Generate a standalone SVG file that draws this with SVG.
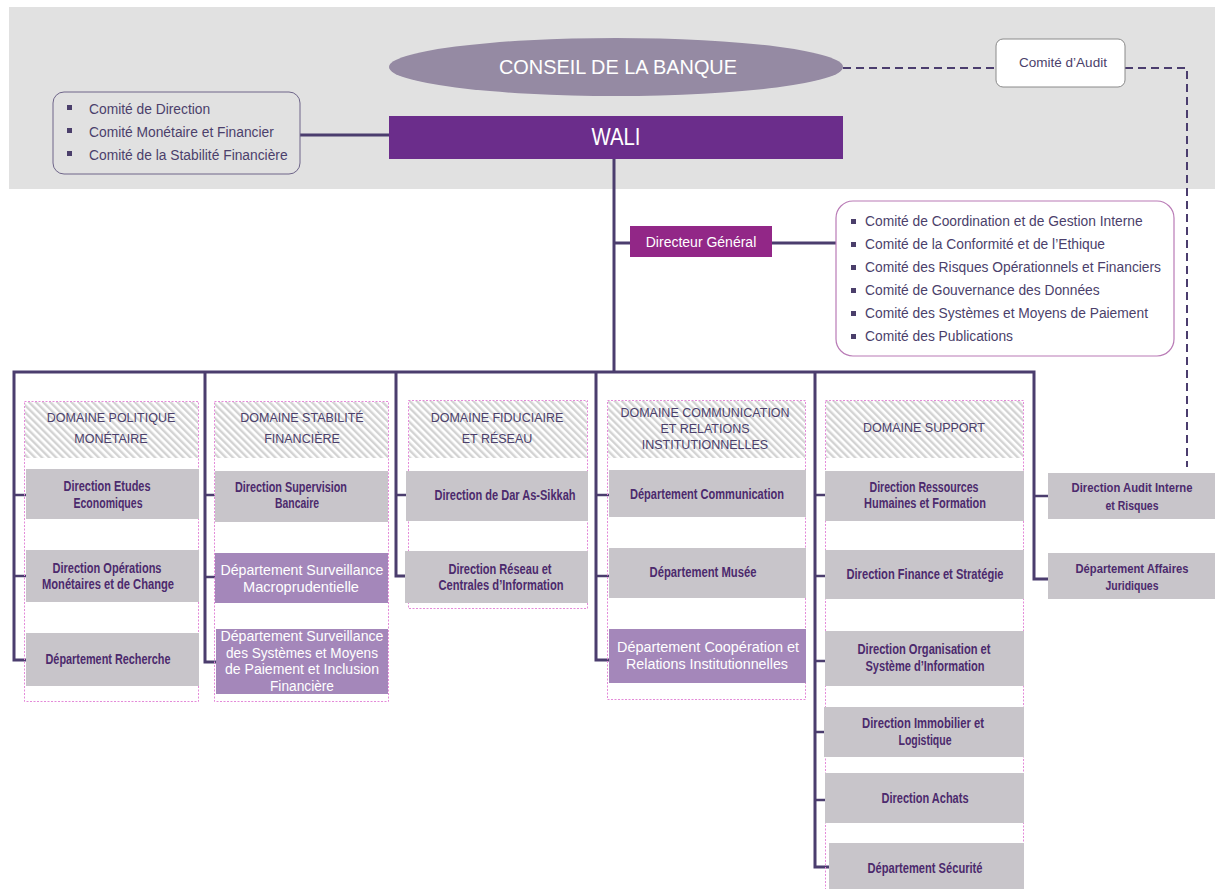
<svg xmlns="http://www.w3.org/2000/svg" width="1215" height="889" viewBox="0 0 1215 889">
<defs>
<pattern id="hatch" width="5" height="5" patternUnits="userSpaceOnUse" patternTransform="rotate(-45)">
<rect width="5" height="5" fill="#ffffff"/>
<rect width="2.4" height="5" fill="#d3d3d3"/>
</pattern>
<style>
.band{fill:#e1e1e1}
.ln{fill:none;stroke:#4b3d6e;stroke-width:3}
.tk{fill:none;stroke:#4b3d6e;stroke-width:2.5}
.dash{fill:none;stroke:#4b3d6e;stroke-width:2;stroke-dasharray:8,5}
.dom{fill:none;stroke:#e48ad9;stroke-width:1;stroke-dasharray:2,1.5}
.hd{fill:url(#hatch)}
.gb{fill:#c8c5ca}
.pb{fill:#a487ba}
.bt{font-family:"Liberation Sans",sans-serif;font-weight:bold;font-size:14.5px;fill:#4c2a6d;text-anchor:middle}
.bs{font-size:13px}
.wt{font-family:"Liberation Sans",sans-serif;font-size:14px;fill:#ffffff;text-anchor:middle}
.ht{font-family:"Liberation Sans",sans-serif;font-size:12.5px;fill:#4b3f6b;text-anchor:middle}
.ct{font-family:"Liberation Sans",sans-serif;font-size:13.8px;fill:#4b3f6b}
.bu{fill:#4b3f6b}
</style>
</defs>
<rect width="1215" height="889" fill="#ffffff"/>
<rect class="band" x="9" y="7" width="1206" height="182"/>

<g id="connectors">
<line class="ln" x1="300" y1="135" x2="463" y2="135"/>
<path class="dash" d="M843,68 H996"/>
<path class="dash" d="M1125,68 H1187 V467"/>
<line class="ln" x1="614" y1="159" x2="614" y2="372"/>
<line class="ln" x1="614" y1="243" x2="630" y2="243"/>
<line class="ln" x1="772" y1="243" x2="836" y2="243"/>
<path class="ln" d="M28,660 H14 V372 H1034 V579 H1048"/>
<path class="ln" d="M220,662 H205 V372"/>
<path class="ln" d="M410,576 H396 V372"/>
<path class="ln" d="M610,660 H596 V372"/>
<path class="ln" d="M829,867 H815 V372"/>
<g class="tk">
<line x1="14" y1="495" x2="28" y2="495"/>
<line x1="14" y1="576" x2="28" y2="576"/>
<line x1="205" y1="495" x2="220" y2="495"/>
<line x1="205" y1="577" x2="220" y2="577"/>
<line x1="396" y1="495" x2="410" y2="495"/>
<line x1="596" y1="495" x2="610" y2="495"/>
<line x1="596" y1="576" x2="610" y2="576"/>
<line x1="815" y1="495" x2="829" y2="495"/>
<line x1="815" y1="576" x2="829" y2="576"/>
<line x1="815" y1="661" x2="829" y2="661"/>
<line x1="815" y1="732" x2="829" y2="732"/>
<line x1="815" y1="800" x2="829" y2="800"/>
<line x1="1034" y1="496" x2="1048" y2="496"/>
</g>
</g>

<g id="conseil">
<ellipse cx="616" cy="67" rx="227" ry="29" fill="#958aa3"/>
<text x="618" y="74" font-family="Liberation Sans, sans-serif" font-size="21" fill="#ffffff" text-anchor="middle" textLength="238" lengthAdjust="spacingAndGlyphs">CONSEIL DE LA BANQUE</text>
</g>

<g id="wali">
<rect x="389" y="116" width="454" height="43" fill="#6b2d8b"/>
<text x="616" y="145" font-family="Liberation Sans, sans-serif" font-size="23" fill="#ffffff" text-anchor="middle" textLength="49" lengthAdjust="spacingAndGlyphs">WALI</text>
</g>

<g id="comites-wali">
<rect x="53" y="92" width="247" height="82" rx="11" fill="none" stroke="#6e6589" stroke-width="1"/>
<rect class="bu" x="67" y="105" width="5" height="5"/>
<rect class="bu" x="67" y="128" width="5" height="5"/>
<rect class="bu" x="67" y="151" width="5" height="5"/>
<text class="ct" x="89" y="114">Comité de Direction</text>
<text class="ct" x="89" y="137">Comité Monétaire et Financier</text>
<text class="ct" x="89" y="160">Comité de la Stabilité Financière</text>
</g>

<g id="comite-audit">
<rect x="996" y="39" width="129" height="48" rx="7" fill="#ffffff" stroke="#8a8a8a" stroke-width="1"/>
<text x="1063" y="67" font-family="Liberation Sans, sans-serif" font-size="13.5" fill="#4b3f6b" text-anchor="middle">Comité d’Audit</text>
</g>

<g id="dg">
<rect x="630" y="226" width="142" height="31" fill="#922787"/>
<text x="701" y="247" font-family="Liberation Sans, sans-serif" font-size="14" fill="#ffffff" text-anchor="middle">Directeur Général</text>
</g>

<g id="comites-dg">
<rect x="836" y="201" width="338" height="155" rx="17" fill="#ffffff" stroke="#b97bb6" stroke-width="1.2"/>
<rect class="bu" x="851" y="219" width="5" height="5"/>
<rect class="bu" x="851" y="242" width="5" height="5"/>
<rect class="bu" x="851" y="265" width="5" height="5"/>
<rect class="bu" x="851" y="288" width="5" height="5"/>
<rect class="bu" x="851" y="311" width="5" height="5"/>
<rect class="bu" x="851" y="334" width="5" height="5"/>
<text class="ct" x="865" y="226">Comité de Coordination et de Gestion Interne</text>
<text class="ct" x="865" y="249">Comité de la Conformité et de l’Ethique</text>
<text class="ct" x="865" y="272">Comité des Risques Opérationnels et Financiers</text>
<text class="ct" x="865" y="295">Comité de Gouvernance des Données</text>
<text class="ct" x="865" y="318">Comité des Systèmes et Moyens de Paiement</text>
<text class="ct" x="865" y="341">Comité des Publications</text>
</g>

<g id="domaine-politique-monetaire">
<rect class="hd" x="25" y="402" width="173" height="56"/>
<rect class="dom" x="24.5" y="401.5" width="174" height="300"/>
<text class="ht" x="111" y="422">DOMAINE POLITIQUE</text>
<text class="ht" x="111" y="443">MONÉTAIRE</text>
</g>
<g id="dir-etudes-economiques">
<rect class="gb" x="26" y="469" width="173" height="50"/>
<text class="bt" x="107" y="491" textLength="87" lengthAdjust="spacingAndGlyphs">Direction Etudes</text>
<text class="bt" x="108" y="508" textLength="69" lengthAdjust="spacingAndGlyphs">Economiques</text>
</g>
<g id="dir-operations-monetaires">
<rect class="gb" x="26" y="550" width="173" height="52"/>
<text class="bt" x="107" y="573" textLength="109" lengthAdjust="spacingAndGlyphs">Direction Opérations</text>
<text class="bt" x="108" y="589" textLength="132" lengthAdjust="spacingAndGlyphs">Monétaires et de Change</text>
</g>
<g id="dep-recherche">
<rect class="gb" x="26" y="633" width="173" height="53"/>
<text class="bt" x="108" y="664" textLength="125" lengthAdjust="spacingAndGlyphs">Département Recherche</text>
</g>

<g id="domaine-stabilite-financiere">
<rect class="hd" x="215" y="402" width="173" height="56"/>
<rect class="dom" x="214.5" y="401.5" width="174" height="300"/>
<text class="ht" x="302" y="422">DOMAINE STABILITÉ</text>
<text class="ht" x="302" y="443">FINANCIÈRE</text>
</g>
<g id="dir-supervision-bancaire">
<rect class="gb" x="215" y="471" width="173" height="51"/>
<text class="bt" x="291" y="492" textLength="112" lengthAdjust="spacingAndGlyphs">Direction Supervision</text>
<text class="bt" x="297" y="508" textLength="44" lengthAdjust="spacingAndGlyphs">Bancaire</text>
</g>
<g id="dep-surveillance-macro">
<rect class="pb" x="215" y="553" width="173" height="50"/>
<text class="wt" x="302" y="575" textLength="163" lengthAdjust="spacingAndGlyphs">Département Surveillance</text>
<text class="wt" x="301" y="592" textLength="116" lengthAdjust="spacingAndGlyphs">Macroprudentielle</text>
</g>
<g id="dep-surveillance-systemes">
<rect class="pb" x="216" y="629" width="172" height="65"/>
<text class="wt" x="302" y="641" textLength="163" lengthAdjust="spacingAndGlyphs">Département Surveillance</text>
<text class="wt" x="302" y="658" textLength="152" lengthAdjust="spacingAndGlyphs">des Systèmes et Moyens</text>
<text class="wt" x="302" y="674" textLength="154" lengthAdjust="spacingAndGlyphs">de Paiement et Inclusion</text>
<text class="wt" x="302" y="691" textLength="64" lengthAdjust="spacingAndGlyphs">Financière</text>
</g>

<g id="domaine-fiduciaire">
<rect class="hd" x="409" y="401" width="178" height="57"/>
<rect class="dom" x="408.5" y="400.5" width="179" height="208"/>
<text class="ht" x="497" y="422">DOMAINE FIDUCIAIRE</text>
<text class="ht" x="497" y="443">ET RÉSEAU</text>
</g>
<g id="dir-dar-as-sikkah">
<rect class="gb" x="406" y="471" width="182" height="50"/>
<text class="bt" x="505" y="500" textLength="141" lengthAdjust="spacingAndGlyphs">Direction de Dar As-Sikkah</text>
</g>
<g id="dir-reseau">
<rect class="gb" x="405" y="551" width="183" height="52"/>
<text class="bt" x="500" y="574" textLength="103" lengthAdjust="spacingAndGlyphs">Direction Réseau et</text>
<text class="bt" x="501" y="590" textLength="125" lengthAdjust="spacingAndGlyphs">Centrales d’Information</text>
</g>

<g id="domaine-communication">
<rect class="hd" x="608" y="401" width="197" height="57"/>
<rect class="dom" x="607.5" y="400.5" width="198" height="299"/>
<text class="ht" x="705" y="417">DOMAINE COMMUNICATION</text>
<text class="ht" x="705" y="433">ET RELATIONS</text>
<text class="ht" x="705" y="449">INSTITUTIONNELLES</text>
</g>
<g id="dep-communication">
<rect class="gb" x="609" y="470" width="197" height="47"/>
<text class="bt" x="707" y="499" textLength="154" lengthAdjust="spacingAndGlyphs">Département Communication</text>
</g>
<g id="dep-musee">
<rect class="gb" x="609" y="548" width="197" height="50"/>
<text class="bt" x="703" y="577" textLength="107" lengthAdjust="spacingAndGlyphs">Département Musée</text>
</g>
<g id="dep-cooperation">
<rect class="pb" x="609" y="629" width="197" height="54"/>
<text class="wt" x="708" y="652" textLength="182" lengthAdjust="spacingAndGlyphs">Département Coopération et</text>
<text class="wt" x="707" y="669" textLength="162" lengthAdjust="spacingAndGlyphs">Relations Institutionnelles</text>
</g>

<g id="domaine-support">
<rect class="hd" x="826" y="401" width="197" height="57"/>
<rect class="dom" x="825.5" y="400.5" width="198" height="500"/>
<text class="ht" x="924" y="432">DOMAINE SUPPORT</text>
</g>
<g id="dir-rh">
<rect class="gb" x="825" y="471" width="199" height="50"/>
<text class="bt" x="924" y="492" textLength="109" lengthAdjust="spacingAndGlyphs">Direction Ressources</text>
<text class="bt" x="925" y="508" textLength="122" lengthAdjust="spacingAndGlyphs">Humaines et Formation</text>
</g>
<g id="dir-finance">
<rect class="gb" x="825" y="550" width="199" height="49"/>
<text class="bt" x="925" y="579" textLength="157" lengthAdjust="spacingAndGlyphs">Direction Finance et Stratégie</text>
</g>
<g id="dir-organisation">
<rect class="gb" x="825" y="631" width="199" height="55"/>
<text class="bt" x="924" y="654" textLength="133" lengthAdjust="spacingAndGlyphs">Direction Organisation et</text>
<text class="bt" x="925" y="671" textLength="119" lengthAdjust="spacingAndGlyphs">Système d’Information</text>
</g>
<g id="dir-immobilier">
<rect class="gb" x="824" y="707" width="200" height="50"/>
<text class="bt" x="923" y="728" textLength="122" lengthAdjust="spacingAndGlyphs">Direction Immobilier et</text>
<text class="bt" x="925" y="745" textLength="53" lengthAdjust="spacingAndGlyphs">Logistique</text>
</g>
<g id="dir-achats">
<rect class="gb" x="825" y="773" width="199" height="50"/>
<text class="bt" x="925" y="803" textLength="87" lengthAdjust="spacingAndGlyphs">Direction Achats</text>
</g>
<g id="dep-securite">
<rect class="gb" x="829" y="843" width="195" height="50"/>
<text class="bt" x="925" y="873" textLength="115" lengthAdjust="spacingAndGlyphs">Département Sécurité</text>
</g>

<g id="dir-audit-interne">
<rect class="gb" x="1048" y="473" width="167" height="46"/>
<text class="bt bs" x="1132" y="492" textLength="121" lengthAdjust="spacingAndGlyphs">Direction Audit Interne</text>
<text class="bt bs" x="1132" y="510" textLength="53" lengthAdjust="spacingAndGlyphs">et Risques</text>
</g>
<g id="dep-affaires-juridiques">
<rect class="gb" x="1048" y="553" width="167" height="46"/>
<text class="bt bs" x="1132" y="573" textLength="113" lengthAdjust="spacingAndGlyphs">Département Affaires</text>
<text class="bt bs" x="1132" y="590" textLength="53" lengthAdjust="spacingAndGlyphs">Juridiques</text>
</g>
</svg>
